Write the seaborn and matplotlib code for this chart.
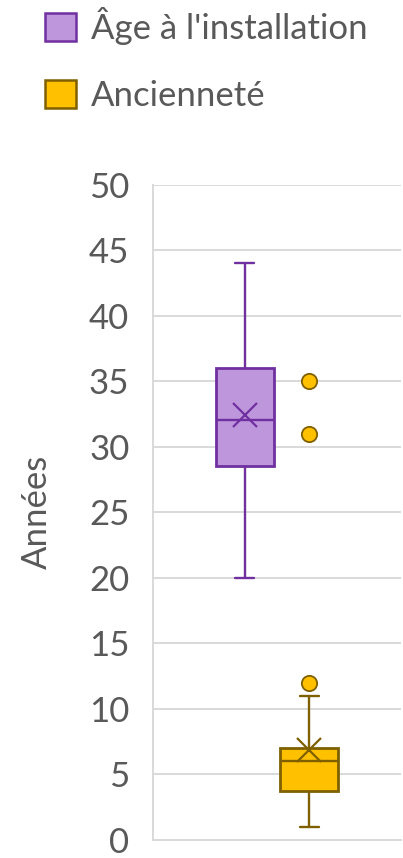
import pandas as pd
import seaborn as sns
import matplotlib.pyplot as plt
from matplotlib.patches import Patch

# values
series = ["Âge à l'installation", "Ancienneté"]
age_installation = [20, 26, 28, 29, 31, 32, 34, 36, 36, 41, 44]
anciennete = [1, 1, 2, 2, 2, 3, 3, 3, 3, 3,
              4, 4, 4, 4, 5, 5, 5, 5, 5, 6, 6,
              6, 6, 6, 6, 7, 7, 7, 7,
              7, 7,
              8, 8, 8, 9, 10, 11,
              12, 31, 35]
y_ticks = list(range(0, 51, 5))
y_label = "Années"

fill_colors = ["#BE96DC", "#FFC000"]
edge_colors = ["#7030A0", "#7F6000"]
text_color = "#595959"
grid_color = "#D9D9D9"

df = pd.DataFrame({
    "serie": [series[0]] * len(age_installation) + [series[1]] * len(anciennete),
    "annees": age_installation + anciennete,
    "groupe": "",
})

sns.set_style("white")
plt.rcParams["font.family"] = ["Lato", "DejaVu Sans"]

fig = plt.figure(figsize=(4.03, 8.58), dpi=100)
ax = fig.add_axes([153 / 403, 18 / 858, 248 / 403, (840 - 184.5) / 858])

sns.boxplot(
    data=df, x="groupe", y="annees", hue="serie", hue_order=series,
    palette=fill_colors, width=0.52, gap=0.1, showmeans=True,
    linewidth=1.6, legend=False, ax=ax,
)

for cont, fc, ec in zip(ax.containers, fill_colors, edge_colors):
    for box in cont.boxes:
        box.set_facecolor(fc)
        box.set_edgecolor(ec)
        box.set_linewidth(2)
        ext = box.get_path().get_extents()
        bw = ext.x1 - ext.x0
    for line in list(cont.whiskers) + list(cont.medians):
        line.set_color(ec)
        line.set_linewidth(1.7)
    for cap in cont.caps:
        cap.set_color(ec)
        cap.set_linewidth(1.7)
        xs = cap.get_xdata()
        c = (xs[0] + xs[1]) / 2
        cap.set_xdata([c - bw * 0.16, c + bw * 0.16])
    for m in cont.means:
        m.set_marker("x")
        m.set_markeredgecolor(ec)
        m.set_markerfacecolor(ec)
        m.set_markersize(17)
        m.set_markeredgewidth(1.6)
    for f in cont.fliers:
        f.set_marker("o")
        f.set_markerfacecolor(fc)
        f.set_markeredgecolor(ec)
        f.set_markersize(11)
        f.set_markeredgewidth(1.3)

ax.set_ylim(0, 50)
ax.set_yticks(y_ticks)
ax.set_xticks([])
ax.set_xlabel("")
ax.set_ylabel(y_label, fontsize=25, color=text_color, labelpad=26)
ax.tick_params(axis="y", length=0, pad=17, labelsize=25, labelcolor=text_color)
ax.yaxis.grid(True, color=grid_color, linewidth=1.4)
ax.set_axisbelow(True)
for side in ["top", "right"]:
    ax.spines[side].set_visible(False)
for side in ["left", "bottom"]:
    ax.spines[side].set_color(grid_color)
    ax.spines[side].set_linewidth(1.4)

handles = [Patch(facecolor=fc, edgecolor=ec, linewidth=1.8) for fc, ec in zip(fill_colors, edge_colors)]
fig.legend(
    handles=handles, labels=series, loc="upper left",
    bbox_to_anchor=(45 / 403, 1 - 7 / 858), frameon=False,
    borderpad=0, borderaxespad=0, handlelength=0.88, handleheight=0.86,
    handletextpad=0.45, labelspacing=1.0, fontsize=25, labelcolor=text_color,
)

fig.savefig("out.png", dpi=100)
